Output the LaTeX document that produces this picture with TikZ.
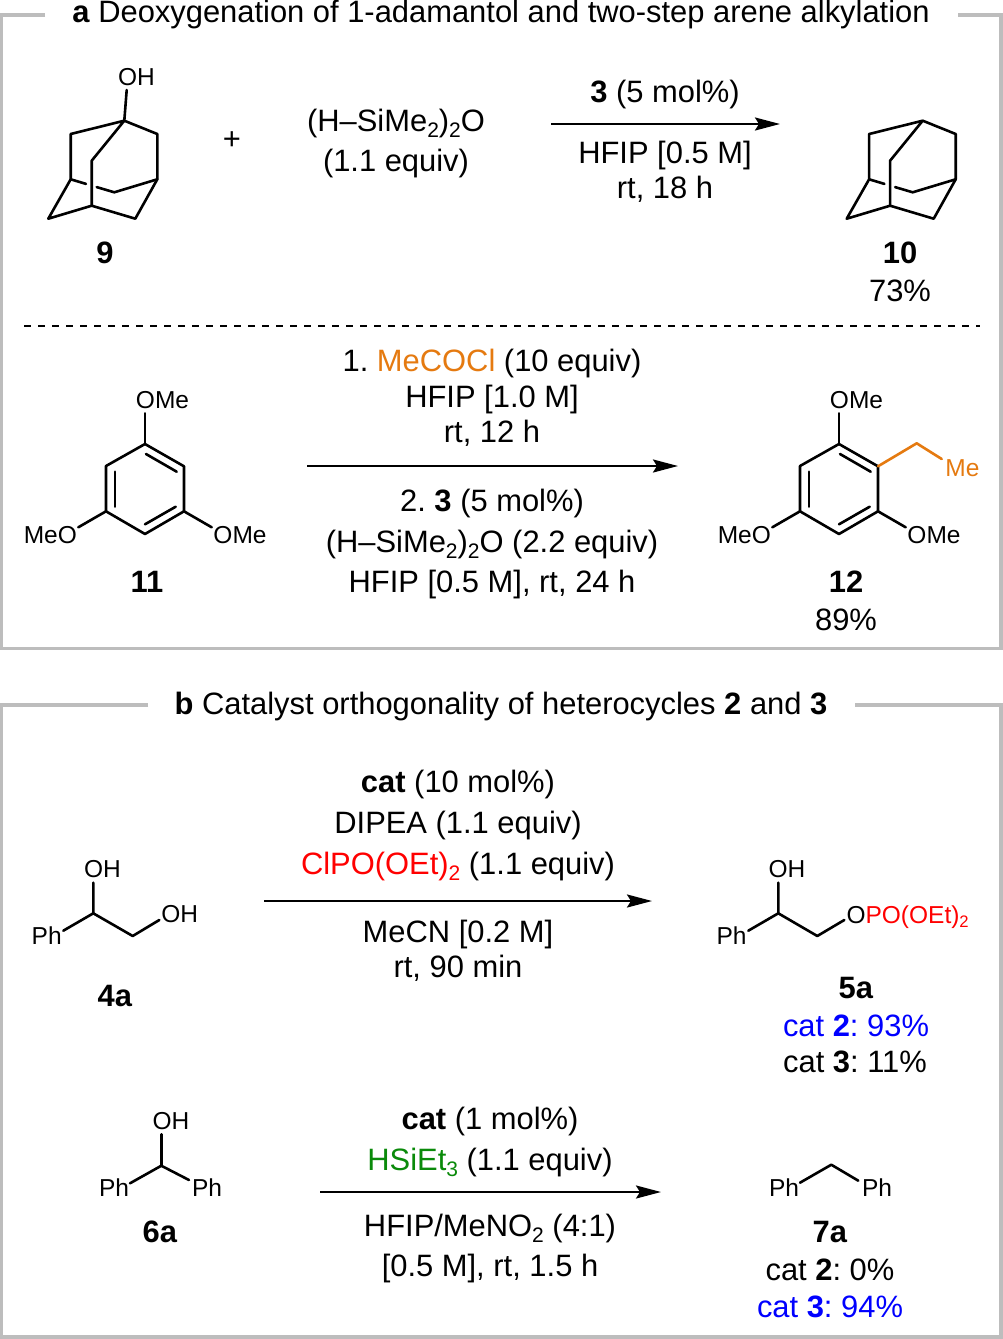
\documentclass[tikz,border=0pt]{standalone}
\usepackage{fontspec}
\setmainfont{Liberation Sans}
\usetikzlibrary{arrows.meta}
\definecolor{framegray}{HTML}{BDBDBD}
\definecolor{acylorange}{HTML}{E57A10}
\definecolor{phosred}{HTML}{FF0000}
\definecolor{catblue}{HTML}{0000FF}
\definecolor{silgreen}{HTML}{0A8A0A}
\frenchspacing
\newcommand{\lowsub}[1]{\raisebox{-.2em}{\scalebox{.68}{#1}}}
\tikzset{
  txt/.style={anchor=base,inner sep=0pt,outer sep=0pt,font=\fontsize{30.9}{34}\selectfont},
  atomlabel/.style={anchor=base,inner sep=0pt,outer sep=0pt,font=\fontsize{24.5}{28}\selectfont},
  bond/.style={line width=2.6pt,line cap=round,line join=round,black},
  thinbond/.style={line width=2.6pt,line cap=round,black},
  colbond/.style={line width=2.6pt,line cap=round,line join=round,acylorange},
  framel/.style={line width=3.6pt,framegray,line join=miter},
  sep/.style={line width=2pt,black,dash pattern=on 7pt off 7pt},
  rxn/.style={line width=2.4pt,black,-{Stealth[length=25pt,width=13pt,inset=4pt]}},
  pics/adamcore/.style={code={
    \coordinate (-top) at (124.3,120.7);
    \coordinate (-lu) at (70.7,134);
    \coordinate (-ru) at (157.3,134);
    \coordinate (-it) at (91.7,160.7);
    \coordinate (-lm) at (70.7,179.3);
    \coordinate (-rm) at (157.3,179.3);
    \coordinate (-c) at (114.3,192.3);
    \coordinate (-ib) at (91.7,205.7);
    \coordinate (-bl) at (48.3,218.7);
    \coordinate (-br) at (135.3,218.7);
    \coordinate (-g1) at (86,183.9);
    \coordinate (-g2) at (96.7,187.1);
    \draw[bond] (-top) -- (-lu) -- (-lm) -- (-bl) -- (-ib) -- (-br) -- (-rm) -- (-ru) -- (-top) -- (-it) -- (-ib);
    \draw[bond] (-rm) -- (-c) -- (-g2);
    \draw[bond] (-lm) -- (-g1);
  }},
  pics/areneco/.style={code={
    \coordinate (-a) at (145,444);
    \coordinate (-b) at (184,466.3);
    \coordinate (-c) at (184,511.3);
    \coordinate (-d) at (145,534);
    \coordinate (-e) at (106,511.3);
    \coordinate (-f) at (106,466);
    \coordinate (-s1) at (146,454);
    \coordinate (-s2) at (176.7,471.7);
    \coordinate (-s3) at (175.7,506.7);
    \coordinate (-s4) at (145,524.3);
    \coordinate (-s5) at (115,471.7);
    \coordinate (-s6) at (115,506.7);
    \coordinate (-o1) at (145,413.3);
    \coordinate (-o2) at (211.7,527.3);
    \coordinate (-o3) at (78.3,527.3);
    \draw[bond] (-a) -- (-b) -- (-c) -- (-d) -- (-e) -- (-f) -- cycle;
    \draw[thinbond] (-s1) -- (-s2);
    \draw[thinbond] (-s3) -- (-s4);
    \draw[thinbond] (-s5) -- (-s6);
    \draw[bond] (-a) -- (-o1);
    \draw[bond] (-c) -- (-o2);
    \draw[bond] (-e) -- (-o3);
  }},
}
\begin{document}
\begin{tikzpicture}[x=1pt,y=-1pt]
\useasboundingbox (0,0) rectangle (1003,1339);
\fill[white] (0,0) rectangle (1003,1339);
% frames
\coordinate (fa1) at (45,15); \coordinate (fa2) at (1.5,15); \coordinate (fa3) at (1.5,648.3);
\coordinate (fa4) at (1001.2,648.3); \coordinate (fa5) at (1001.2,15); \coordinate (fa6) at (958,15);
\draw[framel] (fa1) -- (fa2) -- (fa3) -- (fa4) -- (fa5) -- (fa6);
\coordinate (fb1) at (148,704.7); \coordinate (fb2) at (1.5,704.7); \coordinate (fb3) at (1.5,1337);
\coordinate (fb4) at (1001.2,1337); \coordinate (fb5) at (1001.2,704.7); \coordinate (fb6) at (855,704.7);
\draw[framel] (fb1) -- (fb2) -- (fb3) -- (fb4) -- (fb5) -- (fb6);
\node[txt] (titlea) at (501,22) {\textbf{a} Deoxygenation of 1-adamantol and two-step arene alkylation};
\node[txt] (titleb) at (501,714) {\textbf{b} Catalyst orthogonality of heterocycles \textbf{2} and \textbf{3}};
% separator
\coordinate (sepl) at (24,326); \coordinate (sepr) at (980,326);
\draw[sep] (sepl) -- (sepr);

% scheme a, top
\pic (m9) at (0,0) {adamcore};
\coordinate (oh9) at (126.7,90);
\draw[bond] (m9-top) -- (oh9);
\node[atomlabel] (oh9l) at (136.5,85.5) {OH};
\node[txt] (lab9) at (105,263) {\textbf{9}};
\node[txt] (plus) at (232,149) {+};
\node[txt] (sil1) at (396,131) {(H–SiMe\lowsub{2})\lowsub{2}O};
\node[txt] (sil1b) at (396,171) {(1.1 equiv)};
\coordinate (a1s) at (551,124); \coordinate (a1e) at (780,124);
\draw[rxn] (a1s) -- (a1e);
\node[txt] (c1a) at (665,102) {\textbf{3} (5 mol\%)};
\node[txt] (c1b) at (665,163) {HFIP [0.5 M]};
\node[txt] (c1c) at (665,198) {rt, 18 h};
\pic (m10) at (798.4,0) {adamcore};
\node[txt] (lab10) at (900,263) {\textbf{10}};
\node[txt] (y10) at (900,301) {73\%};

% scheme a, bottom
\pic (m11) at (0,0) {areneco};
\node[atomlabel] (m11o1) at (162.5,408.5) {OMe};
\node[atomlabel] (m11o2) at (240,543) {OMe};
\node[atomlabel] (m11o3) at (50.3,543) {MeO};
\node[txt] (lab11) at (147,592) {\textbf{11}};
\coordinate (a2s) at (307,466); \coordinate (a2e) at (678,466);
\draw[rxn] (a2s) -- (a2e);
\node[txt] (c2a) at (492,371) {1. \textcolor{acylorange}{MeCOCl} (10 equiv)};
\node[txt] (c2b) at (492,407) {HFIP [1.0 M]};
\node[txt] (c2c) at (492,442) {rt, 12 h};
\node[txt] (c2d) at (492,511) {2. \textbf{3} (5 mol\%)};
\node[txt] (c2e) at (492,552) {(H–SiMe\lowsub{2})\lowsub{2}O (2.2 equiv)};
\node[txt] (c2f) at (492,592) {HFIP [0.5 M], rt, 24 h};
\pic (m12) at (694,0) {areneco};
\node[atomlabel] (m12o1) at (856.5,408.5) {OMe};
\node[atomlabel] (m12o2) at (934,543) {OMe};
\node[atomlabel] (m12o3) at (744.3,543) {MeO};
\coordinate (et1) at (916.7,443.3); \coordinate (et2) at (941.7,459);
\draw[colbond] (m12-b) -- (et1) -- (et2);
\node[atomlabel,text=acylorange] (me12) at (962.5,476) {Me};
\node[txt] (lab12) at (846,592) {\textbf{12}};
\node[txt] (y12) at (846,630) {89\%};

% scheme b, top
\coordinate (c4) at (93.3,913.3); \coordinate (c4u) at (93.3,882.7); \coordinate (c4l) at (63.3,930.7);
\coordinate (c4r) at (132.7,936); \coordinate (c4o) at (159.3,920);
\draw[bond] (c4u) -- (c4) -- (c4r) -- (c4o);
\draw[bond] (c4) -- (c4l);
\node[atomlabel] (oh4a) at (102.5,877.5) {OH};
\node[atomlabel] (oh4b) at (179.7,922) {OH};
\node[atomlabel] (ph4) at (46.7,944) {Ph};
\node[txt] (lab4) at (115,1006) {\textbf{4a}};
\coordinate (b1s) at (264,901); \coordinate (b1e) at (652,901);
\draw[rxn] (b1s) -- (b1e);
\node[txt] (c3a) at (458,792) {\textbf{cat} (10 mol\%)};
\node[txt] (c3b) at (458,833) {DIPEA (1.1 equiv)};
\node[txt] (c3c) at (458,874) {\textcolor{phosred}{ClPO(OEt)\lowsub{2}} (1.1 equiv)};
\node[txt] (c3d) at (458,942) {MeCN [0.2 M]};
\node[txt] (c3e) at (458,977) {rt, 90 min};
\coordinate (c5) at (778.3,913.3); \coordinate (c5u) at (778.3,882.7); \coordinate (c5l) at (748.3,930.7);
\coordinate (c5r) at (817.3,936); \coordinate (c5o) at (844.3,920);
\draw[bond] (c5u) -- (c5) -- (c5r) -- (c5o);
\draw[bond] (c5) -- (c5l);
\node[atomlabel] (oh5) at (787,877.5) {OH};
\node[atomlabel,anchor=base west] (o5) at (846.5,923) {O\textcolor{phosred}{PO(OEt)\lowsub{2}}};
\node[atomlabel] (ph5) at (731.5,944) {Ph};
\node[txt] (lab5) at (856,998) {\textbf{5a}};
\node[txt,text=catblue] (y5a) at (856,1036) {cat \textbf{2}: 93\%};
\node[txt] (y5b) at (855,1072) {cat \textbf{3}: 11\%};

% scheme b, bottom
\coordinate (c6) at (161.3,1165.7); \coordinate (c6u) at (161.3,1134.3);
\coordinate (c6l) at (130,1183.3); \coordinate (c6r) at (189,1180);
\draw[bond] (c6u) -- (c6);
\draw[bond] (c6l) -- (c6) -- (c6r);
\node[atomlabel] (oh6) at (171,1129.5) {OH};
\node[atomlabel] (ph6a) at (114,1196.5) {Ph};
\node[atomlabel] (ph6b) at (207,1196.5) {Ph};
\node[txt] (lab6) at (160,1242) {\textbf{6a}};
\coordinate (b2s) at (320,1192); \coordinate (b2e) at (661,1192);
\draw[rxn] (b2s) -- (b2e);
\node[txt] (c4a) at (490,1129) {\textbf{cat} (1 mol\%)};
\node[txt] (c4b) at (490,1170) {\textcolor{silgreen}{HSiEt\lowsub{3}} (1.1 equiv)};
\node[txt] (c4c) at (490,1236) {HFIP/MeNO\lowsub{2} (4:1)};
\node[txt] (c4d) at (490,1276) {[0.5 M], rt, 1.5 h};
\coordinate (c7) at (831.3,1164.7); \coordinate (c7l) at (800,1182.7); \coordinate (c7r) at (858.3,1180.7);
\draw[bond] (c7l) -- (c7) -- (c7r);
\node[atomlabel] (ph7a) at (784,1196.5) {Ph};
\node[atomlabel] (ph7b) at (877,1196.5) {Ph};
\node[txt] (lab7) at (830,1242) {\textbf{7a}};
\node[txt] (y7a) at (830,1280) {cat \textbf{2}: 0\%};
\node[txt,text=catblue] (y7b) at (830,1317) {cat \textbf{3}: 94\%};
\end{tikzpicture}
\end{document}
